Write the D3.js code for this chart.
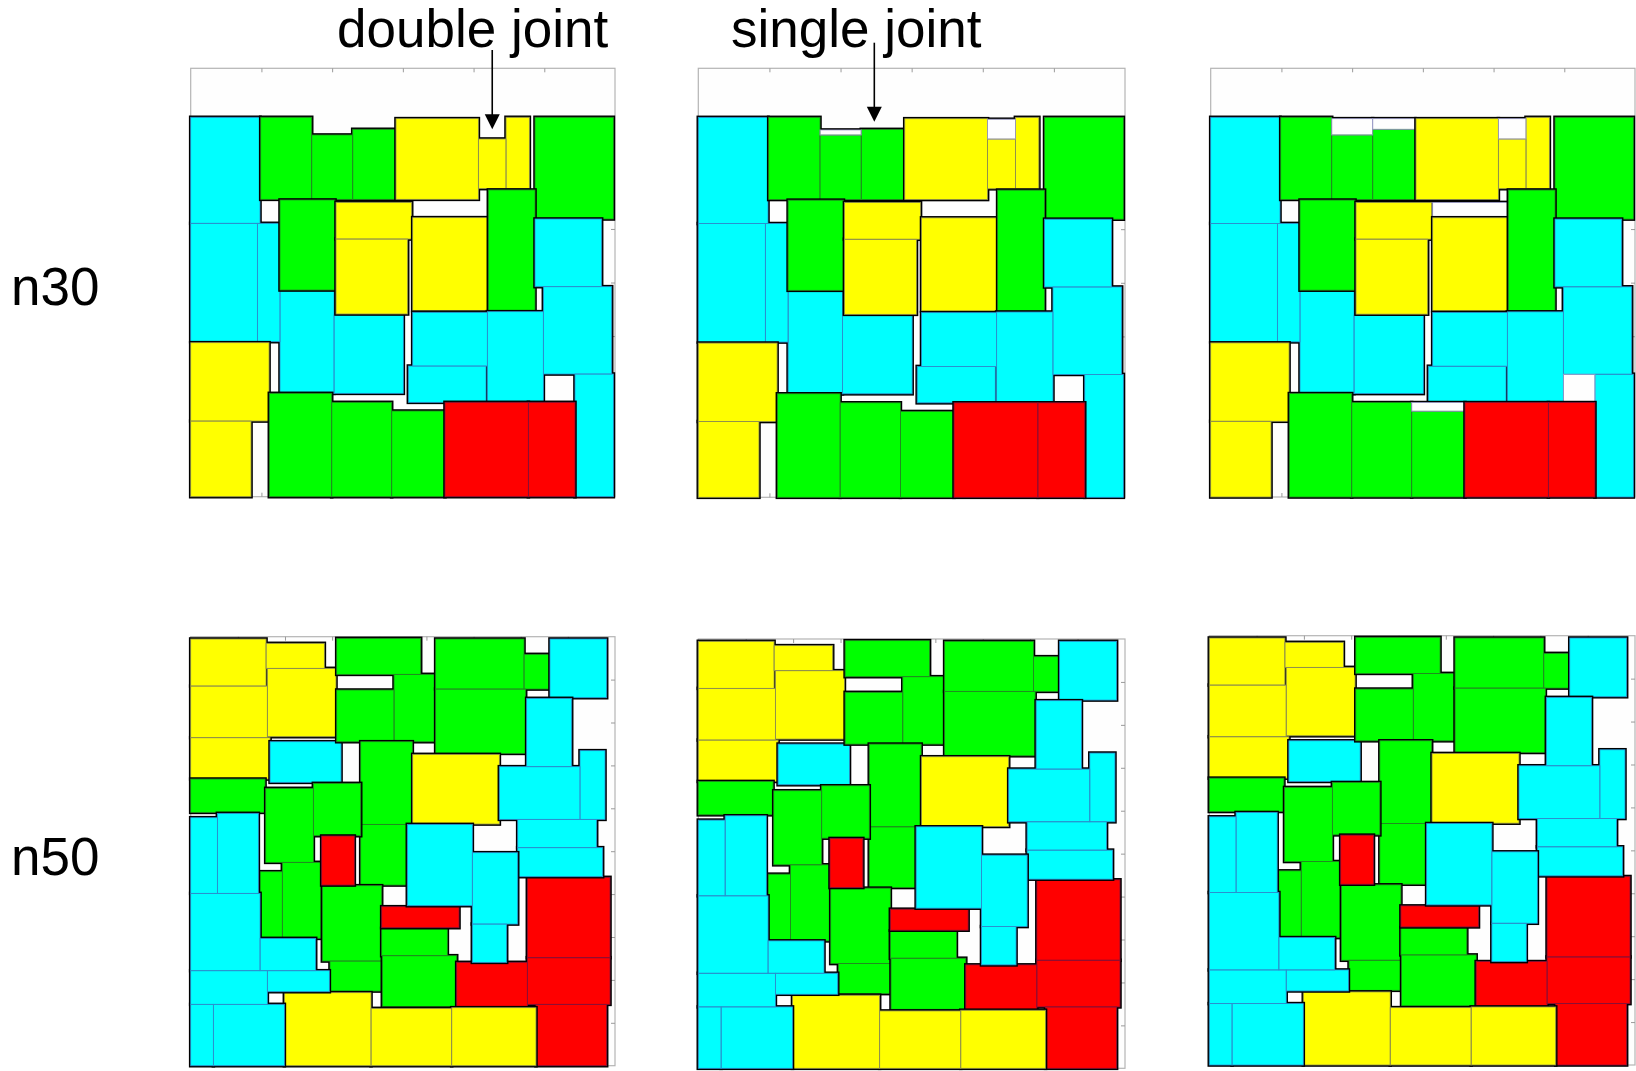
<!DOCTYPE html>
<html>
<head>
<meta charset="utf-8">
<script src="https://cdn.jsdelivr.net/npm/d3@7"></script>
<style>
  html, body { margin: 0; padding: 0; background: #fff; }
  svg { display: block; font-family: "Liberation Sans", Arial, Helvetica, sans-serif; }
</style>
</head>
<body>
<svg id="chart" width="1636" height="1071"></svg>
<script>
// Floorplan blocks: [kind, cluster, x0, x1, y0, y1] in chip units (y grows upward).
// kind: c = cyan, g = green, y = yellow, r = red, w = whitespace kept inside a cluster
const n30Blocks = [
  ["c", "c1", 0, 9.80, 51.05, 70.85],
  ["g", "g1", 9.90, 17.11, 55.53, 70.85],
  ["g", "g1", 17.11, 22.91, 55.53, 67.55],
  ["g", "g1", 22.91, 28.89, 55.53, 68.61],
  ["y", "y1", 29.03, 40.68, 55.53, 70.60],
  ["y", "y1", 40.68, 44.59, 57.53, 66.80],
  ["y", "y1", 44.59, 47.89, 57.53, 70.85],
  ["g", "g2", 48.69, 59.77, 51.86, 70.85],
  ["c", "c1", 0, 9.43, 28.95, 51.05],
  ["c", "c1", 9.43, 12.63, 28.95, 51.05],
  ["g", "g3", 12.63, 20.41, 38.60, 55.41],
  ["y", "y2", 20.55, 31.25, 48.12, 54.97],
  ["y", "y2", 20.55, 30.68, 34.12, 48.12],
  ["y", "y3", 31.39, 42.09, 34.74, 52.11],
  ["g", "g4", 42.09, 48.69, 34.74, 57.28],
  ["c", "c2", 48.69, 58.11, 39.22, 51.86],
  ["c", "c2", 49.87, 59.53, 22.91, 39.22],
  ["c", "c1", 12.63, 20.27, 19.30, 38.41],
  ["c", "c1", 20.27, 30.07, 19.30, 33.93],
  ["c", "c2", 31.39, 41.95, 24.40, 34.43],
  ["c", "c2", 30.78, 41.76, 17.62, 24.40],
  ["c", "c2", 41.95, 49.87, 17.74, 34.55],
  ["c", "c2", 54.34, 59.77, 0, 22.91],
  ["y", "y4", 0, 11.08, 14.13, 28.76],
  ["y", "y4", 0, 8.53, 0, 14.13],
  ["g", "g5", 11.12, 19.94, 0, 19.30],
  ["g", "g5", 19.94, 28.42, 0, 17.62],
  ["g", "g5", 28.42, 35.96, 0, 16.00],
  ["r", "r1", 35.96, 47.75, 0, 17.62],
  ["r", "r1", 47.75, 54.34, 0, 17.62]
];

// whitespace absorbed by clusters in the single-joint floorplan
const n30SingleJointSpace = [
  ["w", "g1", 17.11, 22.91, 67.55, 68.50],
  ["w", "y1", 40.68, 44.59, 66.80, 70.50]
];

// whitespace absorbed by clusters in the fully packed floorplan
const n30FilledSpace = [
  ["w", "g1", 17.11, 22.91, 67.55, 70.60],
  ["w", "g1", 22.91, 28.89, 68.61, 70.60],
  ["w", "y1", 40.68, 44.59, 66.80, 70.60],
  ["w", "y2", 31.39, 42.09, 52.11, 54.97],
  ["w", "g5", 28.42, 35.96, 16.00, 17.62],
  ["w", "c2", 49.87, 54.34, 17.62, 22.91]
];

const n50Blocks = [
  ["y", "y1", 0, 15.98, 88.50, 99.46],
  ["y", "y1", 15.98, 28.35, 92.62, 98.45],
  ["y", "y1", 0, 16.26, 76.46, 88.50],
  ["y", "y1", 16.26, 30.82, 76.69, 92.62],
  ["y", "y1", 0, 16.83, 66.82, 76.46],
  ["c", "c1", 16.83, 31.89, 66.05, 75.52],
  ["g", "g1", 30.97, 48.78, 91.22, 99.61],
  ["g", "g1", 30.97, 43.13, 75.52, 87.57],
  ["g", "g1", 43.13, 51.96, 75.52, 91.22],
  ["g", "g2", 51.96, 70.70, 87.80, 99.46],
  ["g", "g2", 70.70, 76.07, 87.80, 95.88],
  ["g", "g2", 51.96, 71.05, 72.80, 87.80],
  ["g", "g3", 36.06, 47.01, 56.25, 75.52],
  ["g", "g3", 36.06, 45.81, 42.11, 56.25],
  ["g", "g4", 0, 15.77, 59.05, 66.82],
  ["g", "g5", 15.91, 26.02, 47.40, 64.65],
  ["g", "g5", 26.02, 36.06, 53.61, 65.81],
  ["g", "g5", 14.71, 19.44, 29.68, 45.22],
  ["g", "g5", 19.44, 27.93, 29.68, 47.40],
  ["g", "g6", 27.93, 40.51, 24.40, 41.96],
  ["g", "g6", 29.55, 40.51, 17.40, 24.40],
  ["g", "g7", 40.51, 54.44, 25.64, 32.01],
  ["g", "g7", 40.65, 56.42, 13.75, 25.64],
  ["r", "r1", 27.78, 34.71, 42.11, 53.54],
  ["r", "r2", 40.51, 56.91, 32.17, 37.06],
  ["r", "r3", 71.41, 88.94, 25.17, 43.90],
  ["r", "r3", 71.41, 88.94, 14.30, 25.17],
  ["r", "r3", 56.42, 71.41, 13.75, 24.09],
  ["r", "r3", 73.24, 88.23, 0, 14.30],
  ["y", "y2", 47.09, 65.47, 56.33, 72.57],
  ["y", "y3", 19.87, 38.25, 0, 17.02],
  ["y", "y3", 38.25, 55.36, 0, 13.36],
  ["y", "y3", 55.36, 73.24, 0, 13.52],
  ["c", "c2", 76.21, 88.23, 85.78, 99.46],
  ["c", "c3", 71.26, 80.81, 69.70, 85.63],
  ["c", "c3", 65.47, 82.58, 57.42, 69.70],
  ["c", "c3", 82.58, 87.88, 57.42, 73.43],
  ["c", "c3", 69.36, 86.11, 50.82, 57.42],
  ["c", "c3", 69.36, 87.38, 44.06, 50.82],
  ["c", "c4", 45.95, 59.74, 37.30, 56.25],
  ["c", "c4", 59.74, 69.36, 33.02, 49.65],
  ["c", "c4", 59.74, 67.02, 24.09, 33.02],
  ["c", "c5", 0, 5.66, 40.17, 57.81],
  ["c", "c5", 5.66, 14.35, 40.17, 58.82],
  ["c", "c5", 0, 14.71, 22.14, 40.17],
  ["c", "c5", 14.71, 26.51, 22.14, 29.68],
  ["c", "c5", 0, 16.26, 14.30, 22.14],
  ["c", "c5", 16.26, 29.41, 17.25, 22.14],
  ["c", "c5", 0, 4.81, 0, 14.30],
  ["c", "c5", 4.81, 19.87, 0, 14.30]
];

const n30Extent = [60, 80];
const n50Extent = [90, 100];
const tickStep = 10;
const rowLabels = ["n30", "n50"];
const jointLabels = ["double joint", "single joint"];
const jointTargets = [42.64, 24.75]; // chip x of the joint each label points at

// ---- styling ----
const fillOf = { c: "#00ffff", g: "#00ff00", y: "#ffff00", r: "#ff0000", w: "#fefefe" };
const edgeOf = { c: "#2c8fd0", g: "#228b22", y: "#8f8f4f", r: "#8a1038", w: "#9a9ac8" };

// panel frames: [left, right, top, bottom]
const panels = [
  { blocks: n30Blocks, extent: n30Extent, box: [190.7, 615, 68.3, 496.7] },
  { blocks: n30Blocks.concat(n30SingleJointSpace), extent: n30Extent, box: [698.3, 1125, 68.3, 497.3] },
  { blocks: n30Blocks.concat(n30FilledSpace), extent: n30Extent, box: [1210.7, 1635, 68.3, 497] },
  { blocks: n50Blocks, extent: n50Extent, box: [190.7, 615, 636.7, 1065.7] },
  { blocks: n50Blocks, extent: n50Extent, box: [698.3, 1125, 639, 1068.3] },
  { blocks: n50Blocks, extent: n50Extent, box: [1209.3, 1635, 635.7, 1065] }
];

const svg = d3.select("#chart");
const scales = [];

panels.forEach((p) => {
  const [L, R, T, B] = p.box;
  const [W, H] = p.extent;
  const x = d3.scaleLinear().domain([0, W]).range([L, R]);
  const y = d3.scaleLinear().domain([0, H]).range([B, T]);
  scales.push({ x, y });

  const g = svg.append("g");

  // chip outline
  g.append("rect")
    .attr("x", L).attr("y", T)
    .attr("width", R - L).attr("height", B - T)
    .attr("fill", "#fefefe")
    .attr("stroke", "#b4b4b4")
    .attr("stroke-width", 1.2);

  // inward ticks on every side
  const xt = d3.range(tickStep, W, tickStep);
  const yt = d3.range(tickStep, H, tickStep);
  const axes = [
    [d3.axisTop(x).tickValues(xt), `translate(0,${T})`],
    [d3.axisBottom(x).tickValues(xt), `translate(0,${B})`],
    [d3.axisLeft(y).tickValues(yt), `translate(${L},0)`],
    [d3.axisRight(y).tickValues(yt), `translate(${R},0)`]
  ];
  axes.forEach(([ax, tr]) => {
    const a = g.append("g").attr("transform", tr)
      .call(ax.tickSize(-4).tickFormat(""));
    a.select(".domain").remove();
    a.selectAll(".tick line").attr("stroke", "#9a9a9a").attr("stroke-width", 1);
  });

  // clusters: black union outline, then fills, then thin block edges
  const clusters = d3.groups(p.blocks, (d) => d[1]);
  const rx = (d) => x(d[2]);
  const ry = (d) => y(d[5]);
  const rw = (d) => x(d[3]) - x(d[2]);
  const rh = (d) => y(d[4]) - y(d[5]);

  clusters.forEach(([, list]) => {
    const cg = g.append("g");
    cg.selectAll("rect.outline").data(list).join("rect")
      .attr("class", "outline")
      .attr("x", rx).attr("y", ry).attr("width", rw).attr("height", rh)
      .attr("fill", "#000").attr("stroke", "#000").attr("stroke-width", 3.6)
      .attr("stroke-linejoin", "miter");
    cg.selectAll("rect.fill").data(list).join("rect")
      .attr("class", "fill")
      .attr("x", rx).attr("y", ry).attr("width", rw).attr("height", rh)
      .attr("fill", (d) => fillOf[d[0]]);
    cg.selectAll("rect.edge").data(list).join("rect")
      .attr("class", "edge")
      .attr("x", rx).attr("y", ry).attr("width", rw).attr("height", rh)
      .attr("fill", "none")
      .attr("stroke", (d) => edgeOf[d[0]])
      .attr("stroke-width", 0.8);
  });
});

// row labels
svg.selectAll("text.row").data(rowLabels).join("text")
  .attr("class", "row")
  .attr("x", 11)
  .attr("y", (d, i) => [305, 875][i])
  .attr("font-size", 53)
  .attr("fill", "#000")
  .text((d) => d);

// joint annotations with arrows
const annoLayout = [
  { textX: 337, textY: 46.7, lineTop: 50, tip: 129.3 },
  { textX: 731, textY: 46.7, lineTop: 42.7, tip: 121.7 }
];
jointLabels.forEach((label, i) => {
  const lay = annoLayout[i];
  const ax = scales[i].x(jointTargets[i]);
  svg.append("text")
    .attr("x", lay.textX).attr("y", lay.textY)
    .attr("font-size", 53)
    .attr("fill", "#000")
    .text(label);
  svg.append("line")
    .attr("x1", ax).attr("x2", ax)
    .attr("y1", lay.lineTop).attr("y2", lay.tip - 12)
    .attr("stroke", "#000").attr("stroke-width", 1.6);
  svg.append("path")
    .attr("d", `M${ax - 7.5},${lay.tip - 15}L${ax + 7.5},${lay.tip - 15}L${ax},${lay.tip}Z`)
    .attr("fill", "#000");
});
</script>
</body>
</html>
